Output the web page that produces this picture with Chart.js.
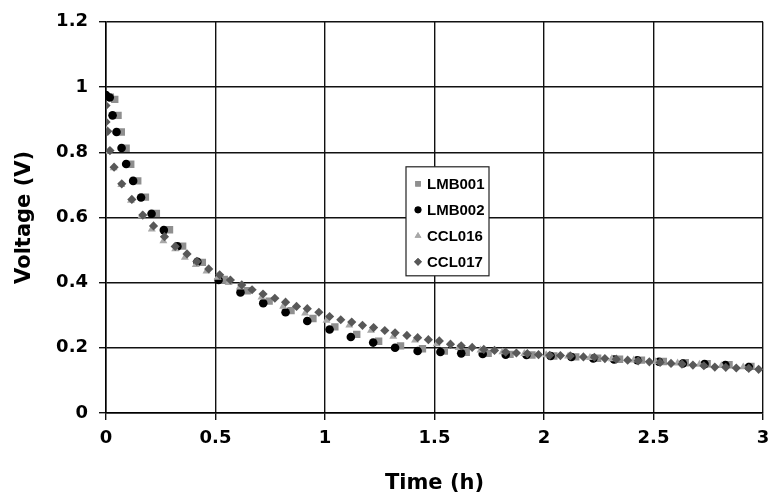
<!DOCTYPE html>
<html>
<head>
<meta charset="utf-8">
<script src="https://cdn.jsdelivr.net/npm/chart.js@4.4.1/dist/chart.umd.min.js"></script>
<style>
  html, body { margin: 0; padding: 0; background: #fff; }
  #wrap { width: 771px; height: 498px; }
</style>
</head>
<body>
<div id="wrap"><canvas id="chart" width="771" height="498"></canvas></div>
<script>
// ──── data (time in h, voltage in V) ─────────────────────────

const seriesNames = ["LMB001", "LMB002", "CCL016", "CCL017"];
const xTicks = [0, 0.5, 1, 1.5, 2, 2.5, 3];
const yTicks = [0, 0.2, 0.4, 0.6, 0.8, 1, 1.2];

const lmb001 = [
  [0.02, 0.969], [0.04, 0.962], [0.055, 0.913], [0.07, 0.862], [0.092, 0.812],
  [0.113, 0.763], [0.145, 0.712], [0.18, 0.662], [0.23, 0.612], [0.29, 0.562],
  [0.35, 0.512], [0.44, 0.462], [0.54, 0.41], [0.645, 0.375], [0.745, 0.343],
  [0.845, 0.314], [0.945, 0.29], [1.045, 0.264], [1.145, 0.241], [1.245, 0.22],
  [1.345, 0.206], [1.445, 0.197], [1.545, 0.19], [1.645, 0.186], [1.745, 0.183],
  [1.845, 0.18], [1.945, 0.178], [2.045, 0.175], [2.145, 0.172], [2.245, 0.168],
  [2.345, 0.165], [2.445, 0.162], [2.545, 0.158], [2.645, 0.154], [2.745, 0.151],
  [2.845, 0.148], [2.945, 0.143]
];

const lmb002 = [
  [0, 0.975], [0.017, 0.968], [0.03, 0.913], [0.048, 0.862], [0.071, 0.813],
  [0.092, 0.764], [0.124, 0.712], [0.16, 0.661], [0.208, 0.611], [0.264, 0.561],
  [0.326, 0.511], [0.417, 0.464], [0.514, 0.408], [0.614, 0.37], [0.718, 0.337],
  [0.82, 0.309], [0.919, 0.282], [1.021, 0.256], [1.118, 0.233], [1.22, 0.216],
  [1.32, 0.2], [1.423, 0.19], [1.527, 0.187], [1.622, 0.183], [1.72, 0.181],
  [1.825, 0.179], [1.92, 0.178], [2.03, 0.175], [2.125, 0.172], [2.225, 0.167],
  [2.32, 0.164], [2.426, 0.162], [2.525, 0.157], [2.634, 0.152], [2.733, 0.15],
  [2.828, 0.147], [2.935, 0.141]
];

const ccl016 = [
  [0.004, 0.868], [0.012, 0.802], [0.035, 0.752], [0.07, 0.7], [0.114, 0.652],
  [0.163, 0.605], [0.209, 0.564], [0.262, 0.528], [0.316, 0.503], [0.36, 0.477],
  [0.41, 0.455], [0.459, 0.435], [0.51, 0.416], [0.56, 0.4], [0.611, 0.386],
  [0.71, 0.355], [0.809, 0.327], [0.909, 0.306], [1.007, 0.284], [1.111, 0.269],
  [1.21, 0.253], [1.312, 0.235], [1.411, 0.223], [1.51, 0.212], [1.61, 0.2],
  [1.71, 0.193], [1.81, 0.187], [1.91, 0.182], [2.01, 0.178], [2.11, 0.174],
  [2.21, 0.17], [2.31, 0.166], [2.41, 0.162], [2.51, 0.157], [2.61, 0.153],
  [2.71, 0.149], [2.81, 0.145], [2.91, 0.141]
];

const ccl017 = [
  [0, 0.943], [0, 0.893], [0.008, 0.864], [0.018, 0.805], [0.037, 0.754],
  [0.072, 0.703], [0.118, 0.655], [0.168, 0.607], [0.217, 0.574], [0.267, 0.541],
  [0.316, 0.511], [0.37, 0.488], [0.415, 0.465], [0.469, 0.442], [0.519, 0.424],
  [0.568, 0.408], [0.62, 0.393], [0.667, 0.378], [0.717, 0.365], [0.771, 0.352],
  [0.82, 0.34], [0.87, 0.327], [0.919, 0.32], [0.972, 0.309], [1.021, 0.296],
  [1.072, 0.286], [1.122, 0.279], [1.171, 0.269], [1.222, 0.262], [1.273, 0.253],
  [1.32, 0.246], [1.374, 0.238], [1.423, 0.231], [1.472, 0.225], [1.522, 0.221],
  [1.573, 0.211], [1.622, 0.206], [1.672, 0.201], [1.725, 0.195], [1.774, 0.192],
  [1.825, 0.187], [1.874, 0.184], [1.924, 0.182], [1.975, 0.179], [2.026, 0.177],
  [2.075, 0.176], [2.12, 0.175], [2.18, 0.172], [2.23, 0.171], [2.278, 0.167],
  [2.33, 0.165], [2.382, 0.162], [2.43, 0.16], [2.481, 0.157], [2.53, 0.155],
  [2.58, 0.152], [2.63, 0.15], [2.68, 0.147], [2.73, 0.145], [2.78, 0.141],
  [2.83, 0.14], [2.878, 0.138], [2.935, 0.137], [2.98, 0.134]
];

// ──── styles ─────────────────────────────────────────────────

const toXY = (arr) => arr.map(([x, y]) => ({ x, y }));
const AXIS_FONT = "'DejaVu Sans', sans-serif";
const GRID = "#111";

const datasets = [
  { label: seriesNames[0], data: toXY(lmb001), pointStyle: "rect", pointRadius: 5.2,
    backgroundColor: "#8f8f8f", borderColor: "#8f8f8f", order: 4 },
  { label: seriesNames[1], data: toXY(lmb002), pointStyle: "circle", pointRadius: 4.3,
    backgroundColor: "#000", borderColor: "#000", order: 3 },
  { label: seriesNames[2], data: toXY(ccl016), pointStyle: "triangle", pointRadius: 4.6,
    backgroundColor: "#a8a8a8", borderColor: "#a8a8a8", order: 2 },
  { label: seriesNames[3], data: toXY(ccl017), pointStyle: "rectRot", pointRadius: 4.6,
    backgroundColor: "#585858", borderColor: "#585858", order: 1 },
].map((d) => ({ ...d, showLine: false, borderWidth: 0, pointHoverRadius: d.pointRadius }));

// legend box inside the plot, drawn by hand (Excel style)
const boxLegend = {
  id: "boxLegend",
  afterDraw(chart) {
    const { ctx, chartArea } = chart;
    const left = chartArea.left + 300, top = chartArea.top + 145;
    const w = 83, h = 109, rowH = 26;
    ctx.save();
    ctx.fillStyle = "#fff";
    ctx.fillRect(left, top, w, h);
    ctx.strokeStyle = "#222";
    ctx.lineWidth = 1.2;
    ctx.strokeRect(left, top, w, h);
    ctx.font = "bold 15px 'Liberation Sans', Arial, sans-serif";
    ctx.textBaseline = "middle";
    datasets.forEach((ds, i) => {
      const cy = top + 17 + i * rowH;
      ctx.fillStyle = ds.backgroundColor;
      ctx.strokeStyle = ds.borderColor;
      Chart.helpers.drawPoint(ctx, { pointStyle: ds.pointStyle, radius: ds.pointStyle === "circle" ? 3.4 : 3.9, borderWidth: 0 }, left + 12, cy);
      ctx.fill();
      ctx.fillStyle = "#000";
      ctx.fillText(ds.label, left + 21, cy + 1);
    });
    ctx.restore();
  },
};

const plainTick = (v) => String(Math.round(v * 10) / 10);

new Chart(document.getElementById("chart"), {
  type: "scatter",
  data: { datasets },
  plugins: [boxLegend],
  options: {
    responsive: false,
    animation: false,
    layout: { padding: { top: 20, right: 8, left: 12, bottom: 0 } },
    plugins: { legend: { display: false }, tooltip: { enabled: false } },
    scales: {
      x: {
        type: "linear", min: 0, max: 3,
        afterBuildTicks: (s) => { s.ticks = xTicks.map((v) => ({ value: v })); },
        afterFit: (s) => { s.height = 85; s.paddingLeft = 0; s.paddingRight = 0; },
        grid: { color: GRID, lineWidth: 1.4, tickLength: 7, tickColor: GRID },
        border: { color: "#000", width: 1.5 },
        ticks: { color: "#000", padding: 8, maxRotation: 0, callback: plainTick,
                 font: { family: AXIS_FONT, size: 18, weight: "bold" } },
        title: { display: true, text: "Time (h)", color: "#000", padding: { top: 0, bottom: 2 },
                 font: { family: AXIS_FONT, size: 21, weight: "bold" } },
      },
      y: {
        type: "linear", min: 0, max: 1.2,
        afterBuildTicks: (s) => { s.ticks = yTicks.map((v) => ({ value: v })); },
        afterFit: (s) => { s.width = 94; },
        grid: { color: GRID, lineWidth: 1.4, tickLength: 7, tickColor: GRID },
        border: { color: "#000", width: 1.5 },
        ticks: { color: "#000", padding: 11, callback: plainTick,
                 font: { family: AXIS_FONT, size: 18, weight: "bold" } },
        title: { display: true, text: "Voltage (V)", color: "#000", padding: { top: 0, bottom: 8 },
                 font: { family: AXIS_FONT, size: 21, weight: "bold" } },
      },
    },
  },
});
</script>
</body>
</html>
